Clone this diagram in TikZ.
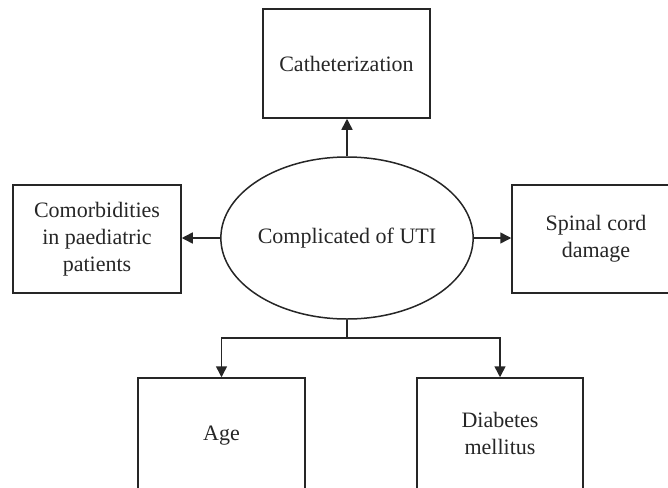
\documentclass[tikz,border=0pt]{standalone}
\usepackage{fontspec}
\setmainfont{Liberation Serif}
\usetikzlibrary{arrows.meta,shapes.geometric}
\begin{document}
\begin{tikzpicture}[x=1pt,y=-1pt,
  box/.style={draw=black!85,line width=1.5pt,rectangle,inner sep=0pt,align=center,font=\fontsize{22}{27}\selectfont,text=black!85},
  ellnode/.style={draw=black!85,line width=1.5pt,ellipse,inner sep=0pt,minimum width=248pt,minimum height=162pt,font=\fontsize{22}{27}\selectfont,text=black!85},
  arr/.style={draw=black!85,line width=1.5pt,-{Triangle[length=11pt,width=11pt]}},
  conn/.style={draw=black!85,line width=1.5pt}]
\useasboundingbox (0,0) rectangle (668,487);
\node[ellnode] (ell) at (347,238) {Complicated of UTI};
\node[box,minimum width=167pt,minimum height=109pt] (cath) at (346.5,63.5) {Catheterization};
\node[box,minimum width=168pt,minimum height=108pt] (left) at (97,239) {Comorbidities\\in paediatric\\patients};
\node[box,minimum width=168pt,minimum height=108pt] (right) at (596,239) {Spinal cord\\damage};
\node[box,minimum width=167pt,minimum height=116pt] (age) at (221.5,436) {\raisebox{4pt}{Age}};
\node[box,minimum width=166pt,minimum height=116pt] (diab) at (500,436) {\raisebox{4pt}{\begin{tabular}{@{}c@{}}Diabetes\\mellitus\end{tabular}}};
\coordinate (j) at (347,338);
\draw[arr] (ell.north) -- (ell.north |- cath.south);
\draw[arr] (ell.west) -- (ell.west -| left.east);
\draw[arr] (ell.east) -- (ell.east -| right.west);
\draw[conn] (ell.south) -- (j);
\draw[arr] (j) -| (age.north);
\draw[arr] (j) -| (diab.north);
\end{tikzpicture}
\end{document}
